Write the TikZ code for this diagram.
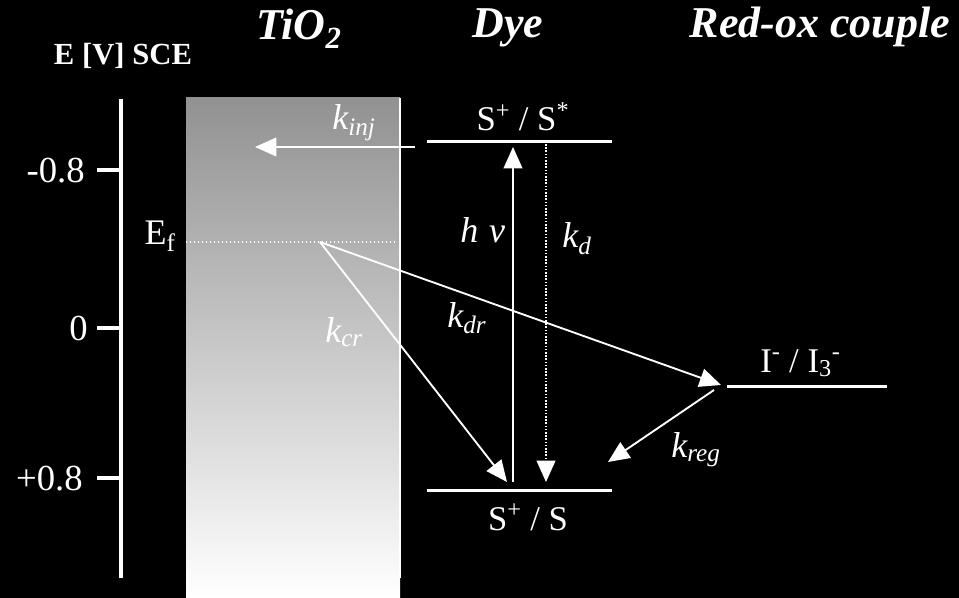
\documentclass[tikz,border=0pt]{standalone}
\usepackage{fontspec}
\setmainfont{Liberation Serif}
\usetikzlibrary{arrows.meta}
\definecolor{boxtop}{gray}{0.57}
\definecolor{boxmid}{gray}{0.81}
\tikzset{
  txt/.style={text=white, inner sep=0pt, font=\fontsize{26}{30}\selectfont},
  hdr/.style={text=white, inner sep=0pt, font=\fontsize{33}{36}\selectfont\bfseries\itshape},
  ktxt/.style={text=white, inner sep=0pt, font=\fontsize{27}{30}\selectfont\itshape},
  level/.style={draw=white, line width=2.25pt},
  axisline/.style={draw=white, line width=2.5pt},
  arr/.style={draw=white, line width=1.4pt, -{Triangle[length=16pt,width=14pt]}},
  dotarr/.style={arr, dash pattern=on 1.2pt off 1.2pt},
}
\begin{document}
\begin{tikzpicture}[x=0.75pt, y=-0.75pt]
% background
\fill[black] (0,0) rectangle (959,598);
\useasboundingbox (0,0) rectangle (959,598);

% TiO2 box
\shade[top color=boxtop, middle color=boxmid, bottom color=white] (186,98) rectangle (400,598);
\draw[white, line width=2pt] (400,98) -- (400,578);

% axis
\coordinate (axtop) at (121,99);
\coordinate (axbot) at (121,578);
\draw[axisline] (axtop) -- (axbot);
\coordinate (t1a) at (97,170);  \coordinate (t1b) at (121,170);
\coordinate (t2a) at (97,328);  \coordinate (t2b) at (121,328);
\coordinate (t3a) at (97,478);  \coordinate (t3b) at (121,478);
\draw[axisline] (t1a) -- (t1b);
\draw[axisline] (t2a) -- (t2b);
\draw[axisline] (t3a) -- (t3b);
\node[txt, font=\fontsize{27.5}{30}\selectfont, anchor=base east] (lm08) at (85,183) {-0.8};
\node[txt, font=\fontsize{27.5}{30}\selectfont, anchor=base east] (l0) at (88,340) {0};
\node[txt, font=\fontsize{27.5}{30}\selectfont, anchor=base east] (lp08) at (83,490) {+0.8};

% headers
\node[hdr, anchor=base] (htio) at (299,40) {TiO\textsubscript{2}};
\node[hdr, anchor=base] (hdye) at (508,38) {Dye};
\node[hdr, anchor=base] (hred) at (820,38) {Red-ox couple};
\node[txt, font=\fontsize{23}{26}\selectfont\bfseries, anchor=base] (hE) at (123,65) {E [V] SCE};

% Fermi level
\node[txt, font=\fontsize{27}{30}\selectfont, anchor=base east] (ef) at (176,245) {E\textsubscript{f}};
\coordinate (efa) at (186,242);
\coordinate (efb) at (397,242);
\draw[white, line width=1pt, dash pattern=on 1pt off 2pt] (efa) -- (efb);
\coordinate (efp) at (320,242);

% dye levels
\coordinate (sxa) at (427,142); \coordinate (sxb) at (612,142);
\draw[level] (sxa) -- (sxb);
\node[txt, anchor=base] (lsx) at (523,131) {S\textsuperscript{+} / S\textsuperscript{*}};
\coordinate (sga) at (427,490); \coordinate (sgb) at (612,490);
\draw[level] (sga) -- (sgb);
\node[txt, anchor=base] (lsg) at (528,530) {S\textsuperscript{+} / S};

% redox level
\coordinate (ria) at (727,386); \coordinate (rib) at (887,386);
\draw[level] (ria) -- (rib);
\node[txt, anchor=base west] (lri) at (760,372) {I\textsuperscript{-} / I\textsubscript{3}\textsuperscript{-}};

% arrows
\coordinate (injs) at (415,147); \coordinate (inje) at (255,147);
\draw[arr] (injs) -- (inje);
\node[ktxt, anchor=base west] (kinj) at (332,130) {k\textsubscript{inj}};

\coordinate (hvs) at (513,482); \coordinate (hve) at (513,147);
\draw[arr] (hvs) -- (hve);
\node[ktxt, anchor=base west] (lhv) at (460,243) {h\hspace{0.3em}ν};

\coordinate (kds) at (546,144); \coordinate (kde) at (546,482);
\draw[dotarr] (kds) -- (kde);
\node[ktxt, anchor=base west] (lkd) at (562,248) {k\textsubscript{d}};

\coordinate (kcre) at (507,482);
\draw[arr] (efp) -- (kcre);
\node[ktxt, anchor=base west] (lkcr) at (325,342) {k\textsubscript{cr}};

\coordinate (kdre) at (721,385);
\draw[arr] (efp) -- (kdre);
\node[ktxt, anchor=base west] (lkdr) at (447,327) {k\textsubscript{dr}};

\coordinate (kregs) at (714,390); \coordinate (krege) at (608,462);
\draw[arr] (kregs) -- (krege);
\node[ktxt, anchor=base west] (lkreg) at (671,457) {k\textsubscript{reg}};
\end{tikzpicture}
\end{document}
